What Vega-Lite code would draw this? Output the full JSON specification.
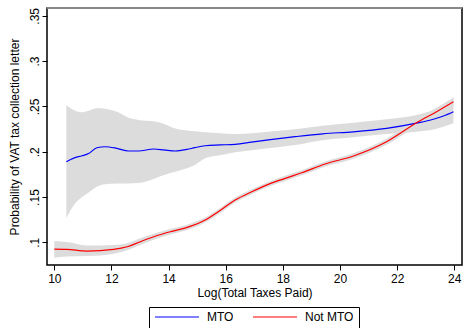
{
  "$schema": "https://vega.github.io/schema/vega-lite/v6.json",
  "width": 415,
  "height": 257,
  "autosize": {"type": "none"},
  "padding": {"left": 47, "top": 8, "right": 2, "bottom": 63},
  "background": "white",
  "config": {
    "font": "Liberation Sans",
    "view": {"stroke": "#000000", "strokeWidth": 1.5},
    "axis": {
      "domain": false,
      "grid": false,
      "tickColor": "#000000",
      "tickSize": 5,
      "tickWidth": 1,
      "labelFont": "Liberation Sans",
      "labelFontSize": 12,
      "labelColor": "#000000",
      "titleFont": "Liberation Sans",
      "titleFontSize": 12,
      "titleFontWeight": "normal",
      "titleColor": "#000000"
    }
  },
  "data": {
    "values": [
      {"g": "MTO", "x": 10.42, "y": 0.189, "lo": 0.127, "hi": 0.2515},
      {"g": "MTO", "x": 10.68, "y": 0.193, "lo": 0.141, "hi": 0.246},
      {"g": "MTO", "x": 10.97, "y": 0.1955, "lo": 0.150, "hi": 0.2435},
      {"g": "MTO", "x": 11.2, "y": 0.198, "lo": 0.155, "hi": 0.2453},
      {"g": "MTO", "x": 11.49, "y": 0.2044, "lo": 0.1614, "hi": 0.248},
      {"g": "MTO", "x": 11.78, "y": 0.2055, "lo": 0.164, "hi": 0.2475},
      {"g": "MTO", "x": 12.19, "y": 0.2037, "lo": 0.165, "hi": 0.244},
      {"g": "MTO", "x": 12.6, "y": 0.2008, "lo": 0.165, "hi": 0.2375},
      {"g": "MTO", "x": 12.95, "y": 0.2008, "lo": 0.1655, "hi": 0.235},
      {"g": "MTO", "x": 13.48, "y": 0.203, "lo": 0.170, "hi": 0.2335},
      {"g": "MTO", "x": 13.83, "y": 0.202, "lo": 0.1743, "hi": 0.231},
      {"g": "MTO", "x": 14.24, "y": 0.2008, "lo": 0.178, "hi": 0.2255},
      {"g": "MTO", "x": 14.64, "y": 0.2025, "lo": 0.1817, "hi": 0.2235},
      {"g": "MTO", "x": 14.92, "y": 0.2045, "lo": 0.1853, "hi": 0.2225},
      {"g": "MTO", "x": 15.28, "y": 0.2066, "lo": 0.1927, "hi": 0.2215},
      {"g": "MTO", "x": 15.8, "y": 0.2075, "lo": 0.196, "hi": 0.2205},
      {"g": "MTO", "x": 16.33, "y": 0.2082, "lo": 0.1993, "hi": 0.2195},
      {"g": "MTO", "x": 16.9, "y": 0.2105, "lo": 0.2015, "hi": 0.2205},
      {"g": "MTO", "x": 17.49, "y": 0.213, "lo": 0.2037, "hi": 0.222},
      {"g": "MTO", "x": 18.43, "y": 0.2166, "lo": 0.2074, "hi": 0.2247},
      {"g": "MTO", "x": 19.4, "y": 0.2198, "lo": 0.2127, "hi": 0.2288},
      {"g": "MTO", "x": 20.47, "y": 0.222, "lo": 0.2159, "hi": 0.232},
      {"g": "MTO", "x": 21.63, "y": 0.2258, "lo": 0.2195, "hi": 0.2358},
      {"g": "MTO", "x": 22.68, "y": 0.2315, "lo": 0.222, "hi": 0.2405},
      {"g": "MTO", "x": 23.27, "y": 0.2358, "lo": 0.2245, "hi": 0.246},
      {"g": "MTO", "x": 23.62, "y": 0.2394, "lo": 0.2275, "hi": 0.251},
      {"g": "MTO", "x": 23.97, "y": 0.2442, "lo": 0.2313, "hi": 0.2589},
      {"g": "Not MTO", "x": 10.0, "y": 0.0926, "lo": 0.083, "hi": 0.1015},
      {"g": "Not MTO", "x": 10.44, "y": 0.0923, "lo": 0.0843, "hi": 0.1003},
      {"g": "Not MTO", "x": 11.14, "y": 0.0904, "lo": 0.0848, "hi": 0.0965},
      {"g": "Not MTO", "x": 12.08, "y": 0.0923, "lo": 0.0875, "hi": 0.0972},
      {"g": "Not MTO", "x": 12.55, "y": 0.0951, "lo": 0.0912, "hi": 0.099},
      {"g": "Not MTO", "x": 13.01, "y": 0.1007, "lo": 0.097, "hi": 0.1044},
      {"g": "Not MTO", "x": 13.48, "y": 0.1062, "lo": 0.1028, "hi": 0.1096},
      {"g": "Not MTO", "x": 14.06, "y": 0.1117, "lo": 0.1086, "hi": 0.1148},
      {"g": "Not MTO", "x": 14.6, "y": 0.116, "lo": 0.113, "hi": 0.119},
      {"g": "Not MTO", "x": 15.28, "y": 0.1246, "lo": 0.1218, "hi": 0.1274},
      {"g": "Not MTO", "x": 15.74, "y": 0.1338, "lo": 0.131, "hi": 0.1366},
      {"g": "Not MTO", "x": 16.33, "y": 0.1467, "lo": 0.144, "hi": 0.1494},
      {"g": "Not MTO", "x": 16.91, "y": 0.1558, "lo": 0.1531, "hi": 0.1585},
      {"g": "Not MTO", "x": 17.49, "y": 0.164, "lo": 0.1613, "hi": 0.1667},
      {"g": "Not MTO", "x": 18.08, "y": 0.1706, "lo": 0.1678, "hi": 0.1734},
      {"g": "Not MTO", "x": 18.66, "y": 0.1768, "lo": 0.174, "hi": 0.1796},
      {"g": "Not MTO", "x": 19.48, "y": 0.1864, "lo": 0.1835, "hi": 0.1893},
      {"g": "Not MTO", "x": 20.47, "y": 0.1953, "lo": 0.1922, "hi": 0.1984},
      {"g": "Not MTO", "x": 21.63, "y": 0.211, "lo": 0.2076, "hi": 0.2144},
      {"g": "Not MTO", "x": 22.68, "y": 0.232, "lo": 0.228, "hi": 0.236},
      {"g": "Not MTO", "x": 23.38, "y": 0.2442, "lo": 0.2398, "hi": 0.2486},
      {"g": "Not MTO", "x": 23.97, "y": 0.2552, "lo": 0.2505, "hi": 0.2599}
    ]
  },
  "layer": [
    {
      "mark": {"type": "area", "color": "#dcdcdc", "opacity": 1, "interpolate": "monotone"},
      "encoding": {
        "x": {
          "field": "x",
          "type": "quantitative",
          "scale": {"domain": [9.744, 24.27], "nice": false, "zero": false},
          "axis": {
            "values": [10, 12, 14, 16, 18, 20, 22, 24],
            "title": "Log(Total Taxes Paid)",
            "labelBaseline": "alphabetic",
            "labelPadding": 12,
            "titleBaseline": "alphabetic",
            "titleAnchor": "middle",
            "titleX": 207.5,
            "titleY": 31
          }
        },
        "y": {
          "field": "lo",
          "type": "quantitative",
          "scale": {"domain": [0.075, 0.3586], "nice": false, "zero": false},
          "axis": {
            "values": [0.1, 0.15, 0.2, 0.25, 0.3, 0.35],
            "labelExpr": "substring(format(datum.value, '.2~f'), 1)",
            "labelAngle": -90,
            "labelAlign": "center",
            "labelBaseline": "alphabetic",
            "labelPadding": 3.5,
            "title": "Probability of VAT tax collection letter",
            "titleAngle": 270,
            "titleAlign": "center",
            "titleBaseline": "alphabetic",
            "titleX": -28.7,
            "titleY": 128.5
          }
        },
        "y2": {"field": "hi"},
        "detail": {"field": "g"}
      }
    },
    {
      "mark": {"type": "line", "strokeWidth": 1.2, "interpolate": "monotone"},
      "encoding": {
        "x": {"field": "x", "type": "quantitative"},
        "y": {"field": "y", "type": "quantitative"},
        "color": {
          "field": "g",
          "type": "nominal",
          "scale": {"domain": ["MTO", "Not MTO"], "range": ["#0000ff", "#ff0000"]},
          "legend": {
            "title": null,
            "orient": "none",
            "legendX": 102,
            "legendY": 299,
            "direction": "horizontal",
            "symbolType": "stroke",
            "symbolSize": 1936,
            "symbolStrokeWidth": 1.2,
            "clipHeight": 10,
            "padding": 5,
            "columnPadding": 18,
            "labelOffset": 7,
            "labelFont": "Liberation Sans",
            "labelFontSize": 12,
            "labelColor": "#000000",
            "strokeColor": "#000000",
            "fillColor": "#ffffff"
          }
        }
      }
    },
    {
      "mark": {"type": "rule", "color": "#888888", "strokeWidth": 1.5},
      "encoding": {"y": {"datum": 0.3586}}
    }
  ]
}
